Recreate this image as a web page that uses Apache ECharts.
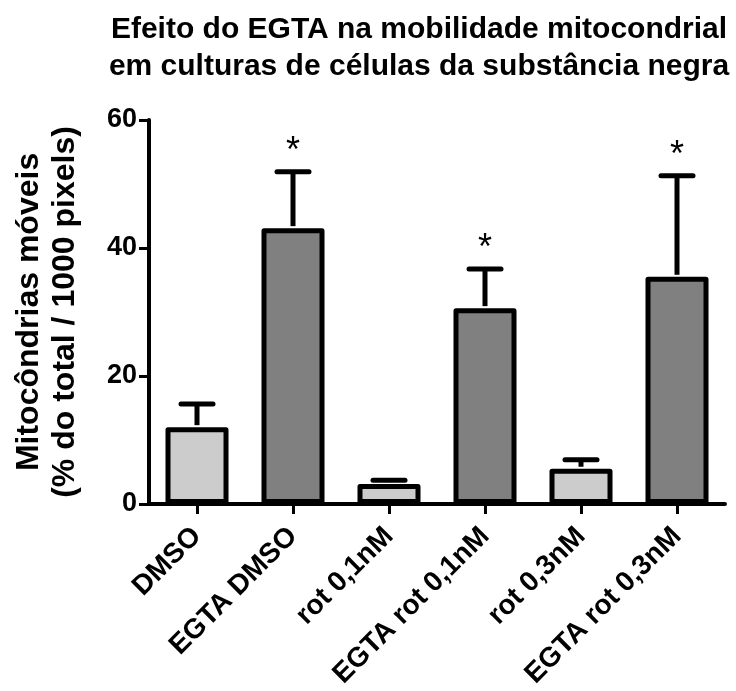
<!DOCTYPE html>
<html><head><meta charset="utf-8">
<script src="https://cdn.jsdelivr.net/npm/echarts@6/dist/echarts.min.js"></script>
<style>html,body{margin:0;padding:0;background:#fff}#c{width:736px;height:691px}</style>
</head><body><div id="c"></div>
<script>
const categories = ['DMSO', 'EGTA DMSO', 'rot 0,1nM', 'EGTA rot 0,1nM', 'rot 0,3nM', 'EGTA rot 0,3nM'];
const means = [12.0, 43.1, 3.1, 30.6, 5.5, 35.5];
const sem = [3.6, 8.8, 0.6, 6.1, 1.4, 15.8];
const significant = [false, true, false, true, false, true];
const isEGTA = [false, true, false, true, false, true];
const yTicks = [0, 20, 40, 60];

const FONT = '"Liberation Sans", Arial, sans-serif';
const chart = echarts.init(document.getElementById('c'));
chart.setOption({
  animation: false,
  backgroundColor: '#fff',
  title: {
    text: 'Efeito do EGTA na mobilidade mitocondrial\nem culturas de células da substância negra',
    left: 414, top: 6, textAlign: 'center',
    textStyle: { fontFamily: FONT, fontSize: 30, fontWeight: 'bold', color: '#000', lineHeight: 37 }
  },
  grid: { left: 149, right: 11, top: 120, bottom: 187, containLabel: false },
  xAxis: {
    type: 'category', data: categories,
    axisLine: { lineStyle: { color: '#000', width: 4 } },
    axisTick: { show: true, alignWithLabel: true, length: 10, lineStyle: { color: '#000', width: 3 } },
    axisLabel: { rotate: 45, interval: 0, margin: 28, color: '#000', fontFamily: FONT, fontSize: 28, fontWeight: 'bold' }
  },
  yAxis: {
    type: 'value', min: yTicks[0], max: yTicks[yTicks.length - 1], interval: 20,
    name: 'Mitocôndrias móveis\n(% do total / 1000 pixels)',
    nameLocation: 'middle', nameRotate: 90, nameGap: 66,
    nameTextStyle: { fontFamily: FONT, fontSize: 32, fontWeight: 'bold', color: '#000', lineHeight: 36 },
    splitLine: { show: false },
    axisLine: { show: true, lineStyle: { color: '#000', width: 4 } },
    axisTick: { show: true, length: 10, lineStyle: { color: '#000', width: 3 } },
    axisLabel: { color: '#000', fontFamily: FONT, fontSize: 27, fontWeight: 'bold', margin: 12 }
  },
  series: [
    {
      type: 'bar', barWidth: 63,
      data: means.map((v, i) => ({
        value: v,
        itemStyle: { color: isEGTA[i] ? '#808080' : '#cccccc', borderColor: '#000', borderWidth: 5, borderJoin: 'round' }
      })),
      z: 2
    },
    {
      type: 'custom',
      data: means.map((v, i) => [i, v, v + sem[i], significant[i] ? 1 : 0]),
      renderItem: function (params, api) {
        const base = api.coord([api.value(0), api.value(1)]);
        const top = api.coord([api.value(0), api.value(2)]);
        const half = 16;
        const children = [
          { type: 'line', shape: { x1: base[0], y1: base[1] - 2, x2: top[0], y2: top[1] }, style: { stroke: '#000', lineWidth: 5 } },
          { type: 'line', shape: { x1: top[0] - half, y1: top[1], x2: top[0] + half, y2: top[1] }, style: { stroke: '#000', lineWidth: 5, lineCap: 'round' } }
        ];
        if (api.value(3)) {
          children.push({ type: 'text', style: { text: '*', x: top[0], y: top[1] - 2, textAlign: 'center', textVerticalAlign: 'bottom', fontFamily: FONT, fontSize: 36, fill: '#000' } });
        }
        return { type: 'group', children: children };
      },
      z: 1
    }
  ]
});
</script></body></html>
